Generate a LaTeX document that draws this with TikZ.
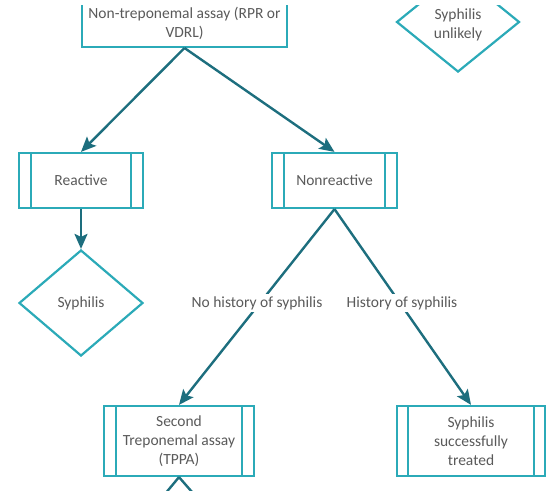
\documentclass[tikz,border=0pt]{standalone}
\usepackage{fontspec}
\setmainfont{Carlito}
\usetikzlibrary{shapes.geometric,arrows.meta}
\definecolor{boxc}{HTML}{2BAAB8}
\definecolor{arrc}{HTML}{1D6E7E}
\definecolor{txtc}{HTML}{5A5A5A}
\tikzset{
  box/.style={draw=boxc, line width=2.2pt, fill=white, inner sep=0pt},
  proc/.style={box, path picture={
      \draw[boxc, line width=2.2pt]
        ([xshift=#1]path picture bounding box.north west) -- ([xshift=#1]path picture bounding box.south west)
        ([xshift=-#1]path picture bounding box.north east) -- ([xshift=-#1]path picture bounding box.south east);}},
  dia/.style={draw=boxc, line width=2.2pt, fill=white, shape=diamond, inner sep=0pt},
  txt/.style={text=txtc, font=\fontsize{15.5}{19}\selectfont, align=center, inner sep=1pt},
  lbl/.style={txt, fill=white, inner sep=2pt},
  arr/.style={draw=arrc, line width=2.4pt, -{Stealth[length=15pt,width=13pt,inset=3pt]}},
  ln/.style={draw=arrc, line width=2.4pt},
}
\begin{document}
\begin{tikzpicture}[x=1pt,y=-1pt]
\useasboundingbox (0,0) rectangle (548,490);
\begin{scope}
\clip (0,5) rectangle (548,490);
\node[box, minimum width=205pt, minimum height=90pt, anchor=south] (top) at (184.5,48) {};
\node[dia, minimum width=123pt, minimum height=100pt] (unl) at (458,22) {};
\end{scope}
\node[txt] (toptext) at (184.5,23) {Non-treponemal assay (RPR or\\VDRL)};
\node[txt] (unltext) at (458,25) {Syphilis\\unlikely};

\node[proc=12pt, minimum width=124pt, minimum height=55pt] (rea) at (81,180.5) {};
\node[txt] (reatext) at (rea.center) {Reactive};
\node[proc=12pt, minimum width=125pt, minimum height=55pt] (non) at (334.5,180.5) {};
\node[txt] (nontext) at (non.center) {Nonreactive};
\node[dia, minimum width=124pt, minimum height=106pt] (syp) at (81,303) {};
\node[txt] (syptext) at (syp.center) {Syphilis};
\node[proc=12pt, minimum width=150pt, minimum height=70pt] (sec) at (179,441) {};
\node[txt] (sectext) at (sec.center) {Second\\Treponemal assay\\(TPPA)};
\node[proc=11pt, minimum width=148pt, minimum height=70pt] (trt) at (471,441) {};
\node[txt] (trttext) at (trt.center) {Syphilis\\successfully\\treated};

\coordinate (d1) at (160,500);
\coordinate (d2) at (199,500);

\draw[arr] (top.south) -- (rea.north);
\draw[arr] (top.south) -- (non.north);
\draw[arr] (rea.south) -- (syp.north);
\draw[arr] (non.south) -- (sec.north);
\draw[arr] (non.south) -- (trt.north);
\draw[ln] (sec.south) -- (d1);
\draw[ln] (sec.south) -- (d2);

\node[lbl] (nohist) at (257,303) {No history of syphilis};
\node[lbl] (hist) at (402,303) {History of syphilis};
\end{tikzpicture}
\end{document}
